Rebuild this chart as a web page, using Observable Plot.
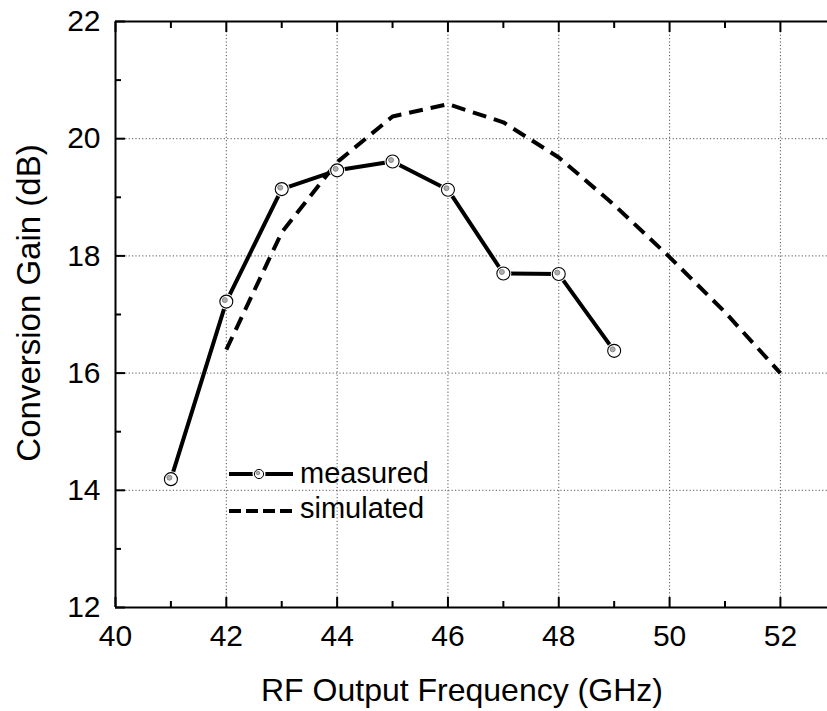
<!DOCTYPE html>
<html><head><meta charset="utf-8">
<script src="https://cdn.jsdelivr.net/npm/d3@7"></script>
<script src="https://cdn.jsdelivr.net/npm/@observablehq/plot@0.6"></script>
<style>
body{margin:0;background:#fff;overflow:hidden}
svg{font-family:"Liberation Sans",Arial,sans-serif}
</style>
</head><body><div id="chart"></div>
<script>
const measuredFreq = [41, 42, 43, 44, 45, 46, 47, 48, 49];
const measuredGain = [14.19, 17.22, 19.14, 19.46, 19.61, 19.13, 17.70, 17.69, 16.38];
const simulatedFreq = [42, 43, 44, 45, 46, 47, 48, 49, 50, 51, 52];
const simulatedGain = [16.40, 18.40, 19.60, 20.38, 20.59, 20.28, 19.68, 18.87, 17.98, 17.04, 16.00];
const xMajor = [40, 42, 44, 46, 48, 50, 52];
const xMinor = [41, 43, 45, 47, 49, 51];
const yMajor = [12, 14, 16, 18, 20, 22];
const yMinor = [13, 15, 17, 19, 21];
const xGrid = [42, 44, 46, 48, 50, 52];
const yGrid = [14, 16, 18, 20];
const xTitle = "RF Output Frequency (GHz)";
const yTitle = "Conversion Gain (dB)";
const seriesNames = ["measured", "simulated"];

const measured = measuredFreq.map((f, i) => ({f, g: measuredGain[i]}));
const simulated = simulatedFreq.map((f, i) => ({f, g: simulatedGain[i]}));

const gridStyle = {stroke: "#555", strokeOpacity: 1, strokeWidth: 1, strokeDasharray: "1.2,2.2"};
const noText = () => "";
const intFmt = d => String(d);

const chart = Plot.plot({
  width: 827, height: 711,
  marginLeft: 115, marginRight: 0, marginTop: 21, marginBottom: 104,
  x: {domain: [40, 52.85]},
  y: {domain: [12, 22]},
  style: {fontFamily: '"Liberation Sans", Arial, sans-serif', fontSize: "30px", color: "#000", background: "#fff", overflow: "hidden"},
  marks: [
    Plot.gridX(xGrid, gridStyle),
    Plot.gridY(yGrid, gridStyle),
    // labels
    Plot.axisX(xMajor, {anchor: "bottom", tickSize: 0, tickPadding: 17, tickFormat: intFmt, label: null}),
    Plot.axisY(yMajor, {anchor: "left", tickSize: 0, tickPadding: 15, tickFormat: intFmt, label: null}),
    // inward ticks
    Plot.axisX(xMajor, {anchor: "bottom", tickSize: 10, dy: -10, strokeWidth: 2, tickFormat: noText, label: null}),
    Plot.axisX(xMinor, {anchor: "bottom", tickSize: 6, dy: -6, strokeWidth: 2, tickFormat: noText, label: null}),
    Plot.axisX(xMajor, {anchor: "top", tickSize: 10, dy: 10, strokeWidth: 2, tickFormat: noText, label: null}),
    Plot.axisX(xMinor, {anchor: "top", tickSize: 6, dy: 6, strokeWidth: 2, tickFormat: noText, label: null}),
    Plot.axisY(yMajor, {anchor: "left", tickSize: 10, dx: 10, strokeWidth: 2, tickFormat: noText, label: null}),
    Plot.axisY(yMinor, {anchor: "left", tickSize: 6, dx: 6, strokeWidth: 2, tickFormat: noText, label: null}),
    // frame lines
    Plot.ruleY([12, 22], {stroke: "#000", strokeWidth: 2}),
    Plot.ruleX([40], {stroke: "#000", strokeWidth: 2}),
    // data
    Plot.line(simulated, {x: "f", y: "g", stroke: "#000", strokeWidth: 4, strokeDasharray: "14,8", strokeLinecap: "butt"}),
    Plot.line(measured, {x: "f", y: "g", stroke: "#000", strokeWidth: 4}),
    Plot.dot(measured, {x: "f", y: "g", r: 8, fill: "#fff", stroke: null}),
    Plot.dot(measured, {x: "f", y: "g", r: 6.5, fill: "#fff", stroke: "#000", strokeWidth: 1.1}),
    Plot.dot(measured, {x: "f", y: "g", r: 2.5, dx: -1.5, dy: -1.5, fill: "#b0b0b0", stroke: "#777", strokeWidth: 0.8})
  ]
});

const svg = d3.select(chart);
svg.selectAll('g[aria-label="x-axis tick label"], g[aria-label="y-axis tick label"]').attr("font-size", 30);

// axis titles
svg.append("text").attr("x", 261).attr("y", 701).attr("text-anchor", "start")
  .attr("font-size", 32).attr("fill", "#000").text(xTitle);
svg.append("text").attr("transform", "translate(40,303) rotate(-90)").attr("text-anchor", "middle")
  .attr("font-size", 33).attr("fill", "#000").text(yTitle);

// legend
const lg = svg.append("g").attr("text-anchor", "start");
// measured
lg.append("line").attr("x1", 229).attr("x2", 293).attr("y1", 474).attr("y2", 474).attr("stroke", "#000").attr("stroke-width", 4);
lg.append("circle").attr("cx", 259).attr("cy", 474).attr("r", 6.5).attr("fill", "#fff");
lg.append("circle").attr("cx", 259).attr("cy", 474).attr("r", 4.6).attr("fill", "#fff").attr("stroke", "#000").attr("stroke-width", 1);
lg.append("circle").attr("cx", 258).attr("cy", 473).attr("r", 1.8).attr("fill", "#b0b0b0").attr("stroke", "#777").attr("stroke-width", 0.7);
lg.append("text").attr("x", 300).attr("y", 483).attr("font-size", 29).attr("fill", "#000").text(seriesNames[0]);
// simulated
lg.append("line").attr("x1", 229).attr("x2", 293).attr("y1", 511).attr("y2", 511).attr("stroke", "#000").attr("stroke-width", 4).attr("stroke-dasharray", "12,5");
lg.append("text").attr("x", 300).attr("y", 518).attr("font-size", 29).attr("fill", "#000").text(seriesNames[1]);

document.getElementById("chart").appendChild(chart);
</script>
</body></html>
